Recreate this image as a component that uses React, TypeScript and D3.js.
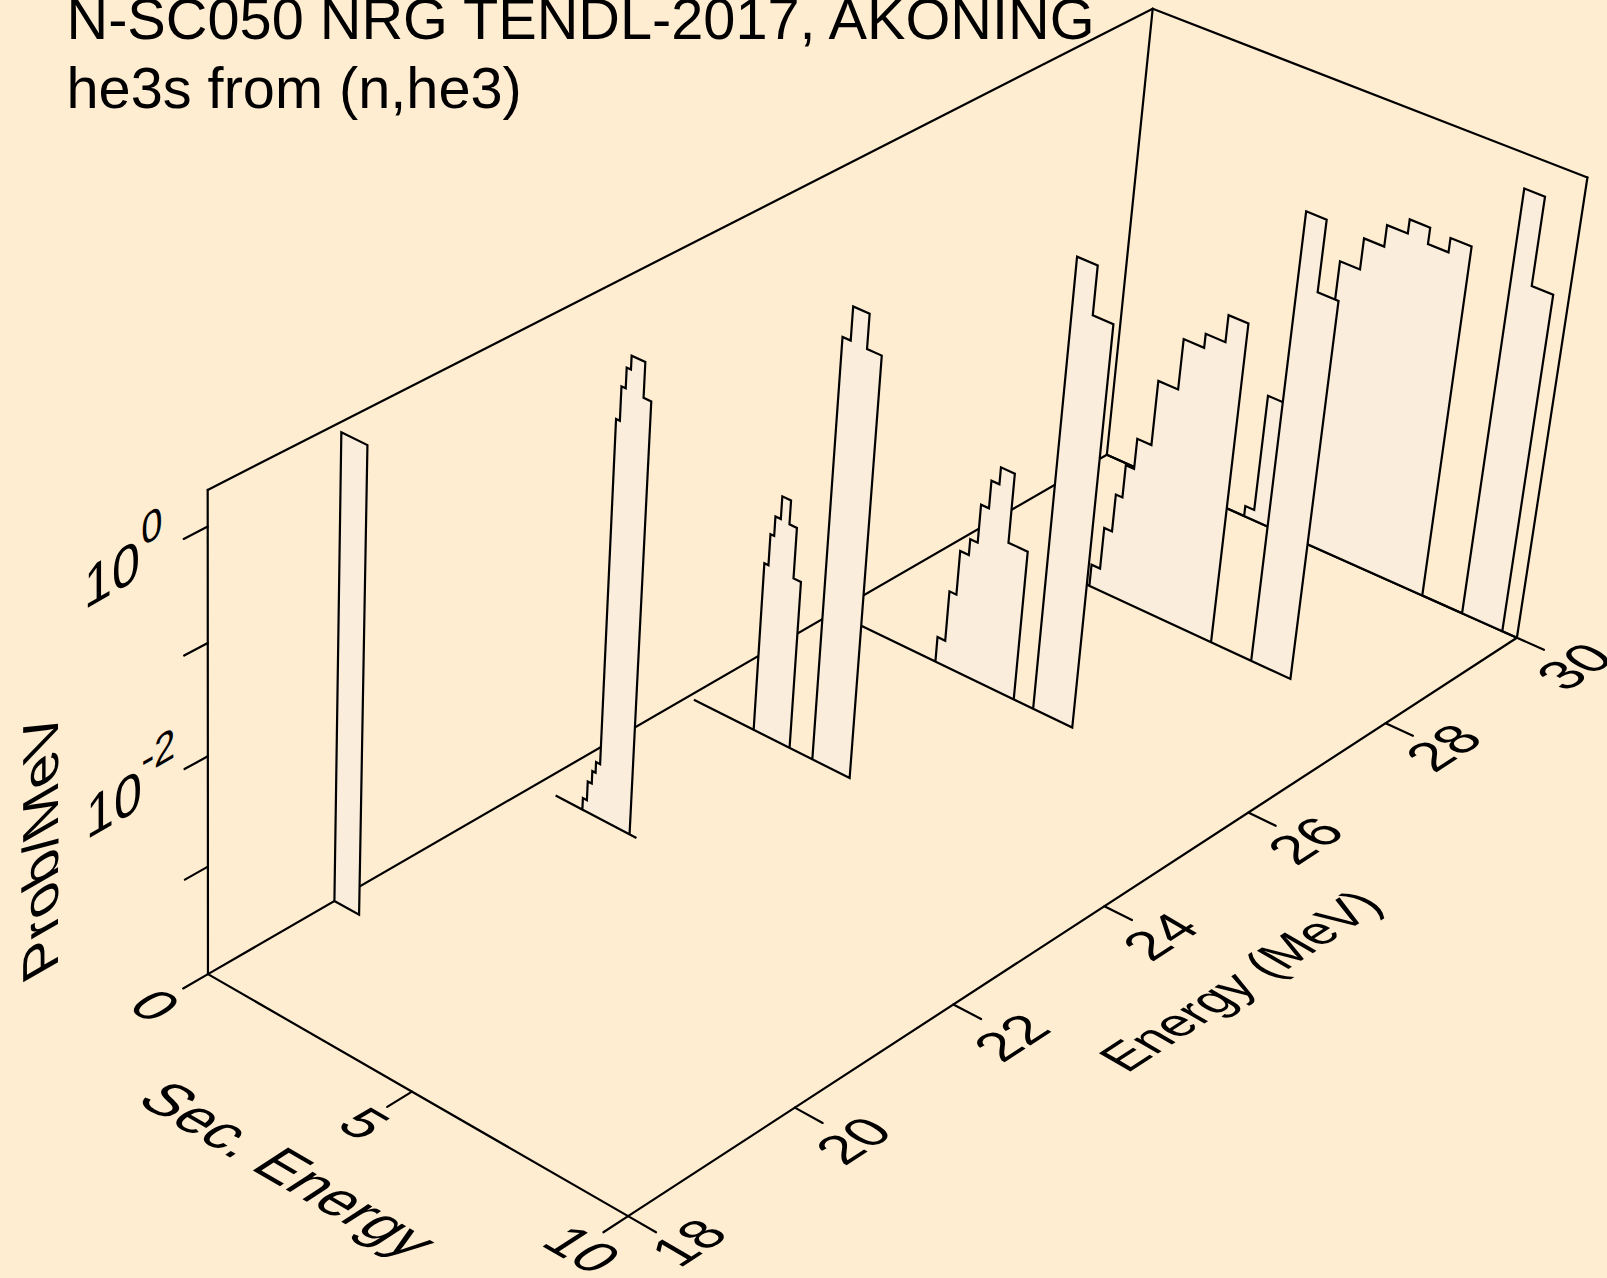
import React from 'react';
import * as d3 from 'd3';

const titleLines = ['N-SC050 NRG TENDL-2017, AKONING', 'he3s from (n,he3)'];
const xTitle = 'Energy (MeV)';
const yTitle = 'Sec. Energy';
const zTitle = 'Prob/MeV';
const energyTicks = [18, 20, 22, 24, 26, 28, 30];
const secTicks = [0, 5, 10];
const probMajor = [1, 0.01];
const probMinor = [0.1, 0.001];

// one spectrum per incident energy: bin edges (MeV) and Prob/MeV in each bin
const energies = [30, 28, 26, 24, 22, 19.5];
const edges30 = [0, 3.46, 3.68, 4.1, 4.48, 4.94, 5.41, 5.88, 6.36, 6.83, 7.3, 7.78, 8.72, 9.18, 9.66, 10];
const probs30 = [0, 1.26e-4, 1.7e-3, 7.94e-3, 0.0141, 0.0537, 0.105, 0.166, 0.224, 0.158, 0.214, 0, 1.02, 0.158, 0];
const edges28 = [2.5, 2.92, 3.13, 3.32, 3.48, 3.68, 4.02, 4.49, 4.97, 5.43, 5.89, 6.85, 7.31, 7.78];
const probs28 = [0, 1.62e-4, 4.07e-4, 9.33e-4, 1.91e-3, 3.72e-3, 0.0151, 0.0447, 0.0603, 0.107, 0, 1.58, 0.355];
const edges26 = [0.5, 2.55, 2.74, 2.91, 3.12, 3.3, 3.49, 3.68, 4.01, 4.47, 4.94, 5.41, 5.88];
const probs26 = [0, 1.74e-4, 5.25e-4, 1.38e-3, 1.95e-3, 4.47e-3, 8.13e-3, 0.0117, 2.63e-3, 0, 1.55, 0.562];
const edges24 = [0.15, 1.65, 1.75, 1.84, 1.97, 2.18, 2.36, 2.54, 3.1, 3.29, 3.67, 4.01];
const probs24 = [0, 3.89e-3, 7.59e-3, 0.0115, 0.0186, 0.0112, 3.8e-3, 0, 0.794, 1.58, 0.776];
const edges22 = [0.51, 1.18, 1.28, 1.38, 1.46, 1.56, 1.65, 1.75, 1.85, 2.17, 2.35, 2.52];
const probs22 = [0, 1.29e-4, 1.95e-4, 2.57e-4, 3.24e-4, 0.457, 0.912, 1.38, 1.82, 0.891, 0];
const edges195 = [0, 0.62];
const probs195 = [1.66];
const allEdges = [edges30, edges28, edges26, edges24, edges22, edges195];
const allProbs = [probs30, probs28, probs26, probs24, probs22, probs195];

const W = 1607, H = 1278;
const BG = '#FFEDD2', FILL = '#FAEDDB', INK = '#000';

const eScale = d3.scaleLinear().domain([18, 30]).range([0, 1]);
const sScale = d3.scaleLinear().domain([0, 10]).range([0, 1]);
const zScale = d3.scaleLog().domain([1e-4, 2.04]).range([0, 1]).clamp(true);
const zOf = (p: number) => (p <= 0 ? 0 : zScale(p));

// perspective camera: 3x4 projective matrix fitted to the frame of the box
const anchors: number[][] = [
  [0, 0, 0, 208.1, 973.6], [0, 1, 0, 626.2, 1216.5], [1, 1, 0, 1516.9, 637.5], [1, 0, 0, 1106, 455],
  [0, 0, 1, 207.8, 490], [1, 0, 1, 1153, 8], [1, 1, 1, 1587, 178],
  [2 / 12, 1, 0, 794.3, 1106.7], [4 / 12, 1, 0, 953.1, 1004.4], [6 / 12, 1, 0, 1106.9, 906],
  [8 / 12, 1, 0, 1248.3, 812.7], [10 / 12, 1, 0, 1385.7, 723.6],
  [0, 0, 4 / 4.31, 207.8, 526.4], [0, 0, 3 / 4.31, 207.8, 643], [0, 0, 2 / 4.31, 207.8, 756.8],
  [0, 0, 1 / 4.31, 207.8, 867.5], [0, 0.5, 0, 413, 1091.5],
];
function solve(A: number[][], b: number[]) {
  const n = b.length; const M = A.map((r, i) => [...r, b[i]]);
  for (let i = 0; i < n; i++) {
    let p = i; for (let k = i; k < n; k++) if (Math.abs(M[k][i]) > Math.abs(M[p][i])) p = k;
    [M[i], M[p]] = [M[p], M[i]];
    for (let k = 0; k < n; k++) { if (k === i) continue; const f = M[k][i] / M[i][i]; for (let j = i; j <= n; j++) M[k][j] -= f * M[i][j]; }
  }
  return M.map((r, i) => r[n] / r[i]);
}
const rows: number[][] = [], rhs: number[] = [];
for (const [X, Y, Z, x0, y0] of anchors) {
  const x = x0 / 1000, y = y0 / 1000;
  rows.push([X, Y, Z, 1, 0, 0, 0, 0, -x * X, -x * Y, -x * Z]); rhs.push(x);
  rows.push([0, 0, 0, 0, X, Y, Z, 1, -y * X, -y * Y, -y * Z]); rhs.push(y);
}
const AtA = d3.range(11).map(i => d3.range(11).map(j => d3.sum(rows, r => r[i] * r[j])));
const Atb = d3.range(11).map(i => d3.sum(rows, (r, k) => r[i] * rhs[k]));
const p = solve(AtA, Atb);
const proj = (X: number, Y: number, Z: number): [number, number] => {
  const w = p[8] * X + p[9] * Y + p[10] * Z + 1;
  return [1000 * (p[0] * X + p[1] * Y + p[2] * Z + p[3]) / w, 1000 * (p[4] * X + p[5] * Y + p[6] * Z + p[7]) / w];
};
const line = d3.line<[number, number]>();
const seg = (a: [number, number], b: [number, number]) => line([a, b]) as string;

function spectrumPath(E: number, ed: number[], pr: number[]) {
  const X = eScale(E);
  const pts: [number, number][] = [proj(X, sScale(ed[0]), 0)];
  pr.forEach((v, i) => {
    pts.push(proj(X, sScale(ed[i]), zOf(v)));
    pts.push(proj(X, sScale(ed[i + 1]), zOf(v)));
  });
  pts.push(proj(X, sScale(ed[ed.length - 1]), 0));
  return (line(pts) as string) + 'Z';
}

const FONT = '"Liberation Sans", Arial, sans-serif';
const eDir: [number, number] = [0.84, -0.545];
const sDir: [number, number] = [0.865, 0.502];
const wallDir: [number, number] = [0.866, -0.5];
const mat = (u: [number, number], v: [number, number], x: number, y: number) =>
  `matrix(${u[0]},${u[1]},${v[0]},${v[1]},${x},${y})`;
const neg = (a: [number, number]): [number, number] => [-a[0], -a[1]];

const eLabelPos: Record<number, [number, number]> = { 18: [705, 1252], 20: [870, 1150], 22: [1028, 1047], 24: [1177, 946], 26: [1322, 850], 28: [1460, 757], 30: [1591, 676] };
const sLabelPos: Record<number, [number, number]> = { 0: [139, 1016], 5: [348, 1134], 10: [566, 1260] };

export default function App() {
  const c00 = proj(0, 0, 0), c01 = proj(0, 1, 0), c11 = proj(1, 1, 0), c10 = proj(1, 0, 0);
  const t00 = proj(0, 0, 1), t10 = proj(1, 0, 1), t11 = proj(1, 1, 1);
  const frame = [[c00, c01], [c01, c11], [c00, c10], [c10, c11], [c00, t00], [c10, t10], [c11, t11], [t00, t10], [t10, t11]] as [number, number][][];
  return (
    <svg width={W} height={H} viewBox={`0 0 ${W} ${H}`} style={{ position: 'absolute', left: 0, top: 0, background: BG }}>
      <rect width={W} height={H} fill={BG} />
      <g fill="none" stroke={INK} strokeWidth={2.2} strokeLinecap="round">
        {frame.map((f, i) => <path key={i} d={seg(f[0], f[1])} />)}
        {energyTicks.map(e => <path key={e} d={seg(proj(eScale(e), 1, 0), proj(eScale(e), 1.0625, 0))} />)}
        {secTicks.map(s => <path key={s} d={seg(proj(0, sScale(s), 0), proj(-0.024, sScale(s), 0))} />)}
        {[...probMajor, ...probMinor].map(v => <path key={v} d={seg(proj(0, 0, zOf(v)), proj(-0.022, 0, zOf(v)))} />)}
      </g>
      <g stroke={INK} strokeWidth={2.2} strokeLinejoin="miter" fill={FILL}>
        {energies.map((E, i) => <path key={E} d={spectrumPath(E, allEdges[i], allProbs[i])} />)}
      </g>
      <g fontFamily={FONT} fill={INK}>
        {titleLines.map((t, i) => <text key={i} x={66.5} y={39 + i * 69} fontSize={57.7}>{t}</text>)}
        {energyTicks.map(e => {
          const q = eLabelPos[e];
          return <text key={e} transform={mat(eDir, sDir, q[0], q[1])} textAnchor="middle" fontSize={55}>{e}</text>;
        })}
        {secTicks.map(s => {
          const q = sLabelPos[s];
          return <text key={s} transform={mat(sDir, neg(eDir), q[0], q[1])} textAnchor="middle" fontSize={56}>{s}</text>;
        })}
        <text transform={mat([eDir[0] * 0.94, eDir[1] * 0.94], sDir, 1256, 990)} textAnchor="middle" fontSize={53}>{xTitle}</text>
        <text transform={mat([sDir[0] * 0.95, sDir[1] * 0.95], neg(eDir), 271, 1181)} textAnchor="middle" fontSize={61}>{yTitle}</text>
        <text transform={mat([0, -1], wallDir, 58, 837)} textAnchor="middle" fontSize={58.5}>{zTitle}</text>
        <g transform={mat(wallDir, [0, 1], 84, 610)}>
          <text fontSize={58}>10</text>
          <text x={66} y={-30} fontSize={44}>0</text>
        </g>
        <g transform={mat(wallDir, [0, 1], 86, 840)}>
          <text fontSize={58}>10</text>
          <text x={64} y={-32} fontSize={44}>-2</text>
        </g>
      </g>
    </svg>
  );
}
